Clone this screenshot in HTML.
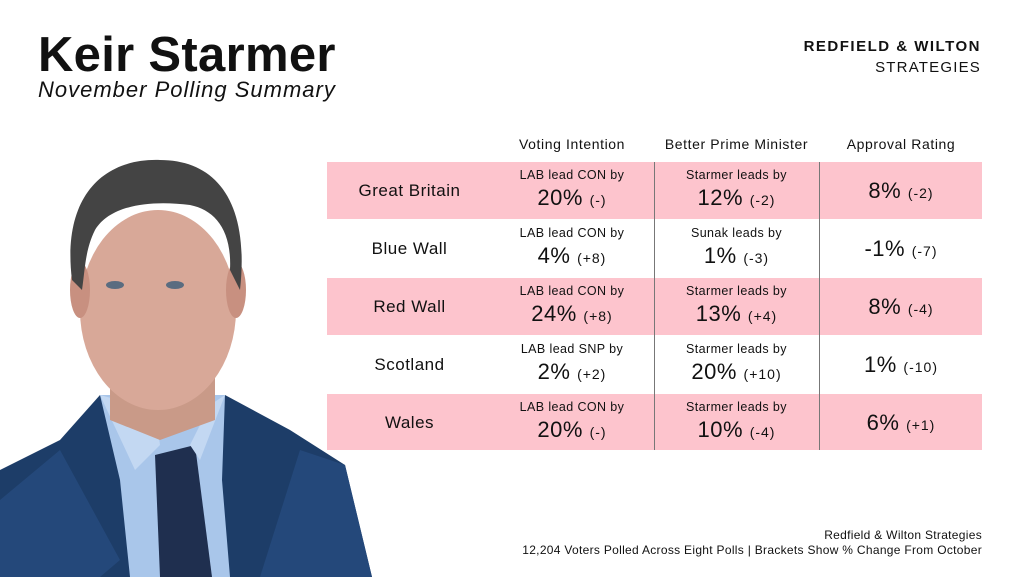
<!DOCTYPE html>
<html><head><meta charset="utf-8"><style>
body{margin:0;width:1024px;height:577px;background:#fff;position:relative;overflow:hidden;font-family:"Liberation Sans",sans-serif;color:#111}
.a{position:absolute}
.t{position:absolute;text-align:center;white-space:nowrap}
.band{position:absolute;left:327px;width:655px;height:57px;background:#fdc4cd}
.vl{position:absolute;width:1px;background:#777;top:162px;height:288px}
.lbl{font-size:17px;letter-spacing:.5px}
.sm{font-size:12.5px;letter-spacing:.4px}
.big{font-size:22px;letter-spacing:.5px}
.big span{font-size:14px;letter-spacing:1px}
.hd{font-size:14px;letter-spacing:.6px}
</style></head><body>
<div class="a" style="left:38px;top:27px;font-size:49px;font-weight:bold;letter-spacing:0.3px">Keir Starmer</div>
<div class="a" style="left:38px;top:77px;font-size:22px;font-style:italic;letter-spacing:1px">November Polling Summary</div>
<div class="a" style="right:43px;top:38px;font-size:15px;font-weight:bold;text-align:right;letter-spacing:1.5px">REDFIELD &amp; WILTON</div>
<div class="a" style="right:43px;top:59px;font-size:15px;text-align:right;letter-spacing:1.2px">STRATEGIES</div>

<svg class="a" style="left:0;top:150px" width="380" height="427" viewBox="0 150 380 427">
<path d="M0 470 L60 440 L100 395 L225 395 L290 430 L345 465 L372 577 L0 577Z" fill="#1d3d68"/>
<path d="M100 395 L225 395 L222 480 L230 577 L130 577 L120 480Z" fill="#a9c6ea"/>
<path d="M155 455 L195 445 L212 577 L160 577Z" fill="#1f2f4f"/>
<path d="M100 395 L135 470 L160 445 L155 410Z M225 395 L200 460 L190 445 L210 405Z" fill="#c3d8f2"/>
<path d="M0 500 L60 450 L120 560 L100 577 L0 577Z" fill="#24487a"/>
<path d="M300 450 L345 465 L372 577 L260 577Z" fill="#24487a"/>
<path d="M110 370 L110 420 L160 440 L215 420 L215 370Z" fill="#c99a88"/>
<ellipse cx="158" cy="310" rx="78" ry="100" fill="#d8a898"/>
<ellipse cx="80" cy="290" rx="10" ry="28" fill="#c89080"/>
<ellipse cx="236" cy="290" rx="10" ry="28" fill="#c89080"/>
<path d="M72 280 C62 200 100 158 160 160 C215 160 250 200 240 290 L230 270 C232 230 215 210 190 205 C150 200 110 205 95 230 C85 250 85 270 82 290Z" fill="#444"/>
<ellipse cx="115" cy="285" rx="9" ry="4" fill="#5a6c80"/>
<ellipse cx="175" cy="285" rx="9" ry="4" fill="#5a6c80"/>
</svg>

<div class="t hd" style="left:492px;width:160px;top:136px">Voting Intention</div>
<div class="t hd" style="left:655px;width:163px;top:136px">Better Prime Minister</div>
<div class="t hd" style="left:820px;width:162px;top:136px">Approval Rating</div>

<div class="band" style="top:162px"></div>
<div class="band" style="top:278px"></div>
<div class="band" style="top:394px;height:56px"></div>
<div class="vl" style="left:654px"></div>
<div class="vl" style="left:819px"></div>

<div id="rows"></div>
<script>
var d=[["Great Britain","LAB lead CON by","20%","(-)","Starmer leads by","12%","(-2)","8%","(-2)"],
["Blue Wall","LAB lead CON by","4%","(+8)","Sunak leads by","1%","(-3)","-1%","(-7)"],
["Red Wall","LAB lead CON by","24%","(+8)","Starmer leads by","13%","(+4)","8%","(-4)"],
["Scotland","LAB lead SNP by","2%","(+2)","Starmer leads by","20%","(+10)","1%","(-10)"],
["Wales","LAB lead CON by","20%","(-)","Starmer leads by","10%","(-4)","6%","(+1)"]];
var h="";
d.forEach(function(r,i){var y=162+i*58;
h+='<div class="t lbl" style="left:327px;width:165px;top:'+(y+19)+'px">'+r[0]+'</div>';
h+='<div class="t sm" style="left:492px;width:160px;top:'+(y+6)+'px">'+r[1]+'</div>';
h+='<div class="t big" style="left:492px;width:160px;top:'+(y+23)+'px">'+r[2]+' <span>'+r[3]+'</span></div>';
h+='<div class="t sm" style="left:655px;width:163px;top:'+(y+6)+'px">'+r[4]+'</div>';
h+='<div class="t big" style="left:655px;width:163px;top:'+(y+23)+'px">'+r[5]+' <span>'+r[6]+'</span></div>';
h+='<div class="t big" style="left:820px;width:162px;top:'+(y+16)+'px">'+r[7]+' <span>'+r[8]+'</span></div>';
});
document.getElementById("rows").innerHTML=h;
</script>
<div class="a" style="right:42px;top:528px;font-size:12px;text-align:right;letter-spacing:.3px">Redfield &amp; Wilton Strategies</div>
<div class="a" style="right:42px;top:543px;font-size:12px;text-align:right;letter-spacing:.3px">12,204 Voters Polled Across Eight Polls | Brackets Show % Change From October</div>
</body></html>
